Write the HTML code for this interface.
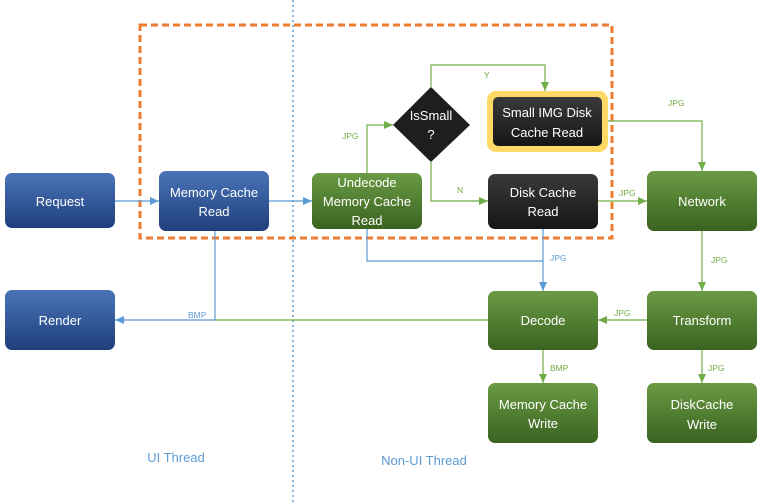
<!DOCTYPE html>
<html><head><meta charset="utf-8"><style>
body{margin:0;background:#fff}
svg{display:block;font-family:"Liberation Sans",sans-serif}
.t{fill:#fff;font-size:13px;text-anchor:middle}
.l{font-size:8.5px}
</style></head><body>
<svg width="763" height="503" viewBox="0 0 763 503">
<defs>
<linearGradient id="b" x1="0" y1="0" x2="0" y2="1"><stop offset="0" stop-color="#4a74b8"/><stop offset="1" stop-color="#1f3f7c"/></linearGradient>
<linearGradient id="g" x1="0" y1="0" x2="0" y2="1"><stop offset="0" stop-color="#6a9a44"/><stop offset="1" stop-color="#3a6320"/></linearGradient>
<linearGradient id="k" x1="0" y1="0" x2="0" y2="1"><stop offset="0" stop-color="#3a3a3a"/><stop offset="1" stop-color="#161616"/></linearGradient>
<marker id="ab" markerWidth="10" markerHeight="10" refX="9" refY="5" orient="auto" markerUnits="userSpaceOnUse"><path d="M0,1 L9,5 L0,9z" fill="#5b9bd5"/></marker>
<marker id="ag" markerWidth="10" markerHeight="10" refX="9" refY="5" orient="auto" markerUnits="userSpaceOnUse"><path d="M0,1 L9,5 L0,9z" fill="#70ad47"/></marker>
</defs>
<line x1="293" y1="0" x2="293" y2="503" stroke="#5b9bd5" stroke-width="1.5" stroke-dasharray="2,3"/>
<rect x="140" y="25" width="472" height="213" fill="none" stroke="#ed7d31" stroke-width="3" stroke-dasharray="7,4"/>
<!-- connectors -->
<g fill="none" stroke-width="1.2">
<path d="M115,201 H159" stroke="#5b9bd5" marker-end="url(#ab)"/>
<path d="M269,201 H312" stroke="#5b9bd5" marker-end="url(#ab)"/>
<path d="M367,173 V125 H393" stroke="#70ad47" marker-end="url(#ag)"/>
<path d="M431,87 V65 H545 V91" stroke="#70ad47" marker-end="url(#ag)"/>
<path d="M431,162 V201 H488" stroke="#70ad47" marker-end="url(#ag)"/>
<path d="M608,121 H702 V171" stroke="#70ad47" marker-end="url(#ag)"/>
<path d="M598,201 H647" stroke="#70ad47" marker-end="url(#ag)"/>
<path d="M367,229 V261 H543" stroke="#5b9bd5"/>
<path d="M543,229 V291" stroke="#5b9bd5" marker-end="url(#ab)"/>
<path d="M702,231 V291" stroke="#70ad47" marker-end="url(#ag)"/>
<path d="M647,320 H598" stroke="#70ad47" marker-end="url(#ag)"/>
<path d="M488,320 H215" stroke="#70ad47"/>
<path d="M215,231 V320 H115" stroke="#5b9bd5" marker-end="url(#ab)"/>
<path d="M543,350 V383" stroke="#70ad47" marker-end="url(#ag)"/>
<path d="M702,350 V383" stroke="#70ad47" marker-end="url(#ag)"/>
</g>
<g class="l">
<text x="342" y="139" fill="#70ad47">JPG</text>
<text x="484" y="78" fill="#70ad47">Y</text>
<text x="457" y="193" fill="#70ad47">N</text>
<text x="668" y="106" fill="#70ad47">JPG</text>
<text x="619" y="196" fill="#70ad47">JPG</text>
<text x="550" y="261" fill="#5b9bd5">JPG</text>
<text x="711" y="263" fill="#70ad47">JPG</text>
<text x="614" y="316" fill="#70ad47">JPG</text>
<text x="188" y="318" fill="#5b9bd5">BMP</text>
<text x="550" y="371" fill="#70ad47">BMP</text>
<text x="708" y="371" fill="#70ad47">JPG</text>
</g>
<!-- nodes -->
<rect x="5" y="173" width="110" height="55" rx="7" fill="url(#b)"/>
<text class="t" x="60" y="206">Request</text>
<rect x="159" y="171" width="110" height="60" rx="7" fill="url(#b)"/>
<text class="t" x="214" y="197">Memory Cache</text><text class="t" x="214" y="216">Read</text>
<rect x="5" y="290" width="110" height="60" rx="7" fill="url(#b)"/>
<text class="t" x="60" y="325">Render</text>
<rect x="312" y="173" width="110" height="56" rx="7" fill="url(#g)"/>
<text class="t" x="367" y="187">Undecode</text><text class="t" x="367" y="206">Memory Cache</text><text class="t" x="367" y="225">Read</text>
<path d="M431,87 L470,125 L431,162 L393,125z" fill="#1e1e1e"/>
<text class="t" x="431" y="120">IsSmall</text><text class="t" x="431" y="139">?</text>
<rect x="487" y="91" width="121" height="61" rx="9" fill="#ffd966"/>
<rect x="493" y="97" width="109" height="49" rx="5" fill="url(#k)"/>
<text class="t" x="547" y="117">Small IMG Disk</text><text class="t" x="547" y="137">Cache Read</text>
<rect x="488" y="174" width="110" height="55" rx="7" fill="url(#k)"/>
<text class="t" x="543" y="197">Disk Cache</text><text class="t" x="543" y="216">Read</text>
<rect x="647" y="171" width="110" height="60" rx="7" fill="url(#g)"/>
<text class="t" x="702" y="206">Network</text>
<rect x="488" y="291" width="110" height="59" rx="7" fill="url(#g)"/>
<text class="t" x="543" y="325">Decode</text>
<rect x="647" y="291" width="110" height="59" rx="7" fill="url(#g)"/>
<text class="t" x="702" y="325">Transform</text>
<rect x="488" y="383" width="110" height="60" rx="7" fill="url(#g)"/>
<text class="t" x="543" y="409">Memory Cache</text><text class="t" x="543" y="428">Write</text>
<rect x="647" y="383" width="110" height="60" rx="7" fill="url(#g)"/>
<text class="t" x="702" y="409">DiskCache</text><text class="t" x="702" y="429">Write</text>
<text x="176" y="462" fill="#5b9bd5" font-size="13" text-anchor="middle">UI Thread</text>
<text x="424" y="465" fill="#5b9bd5" font-size="13" text-anchor="middle">Non-UI Thread</text>
</svg>
</body></html>
